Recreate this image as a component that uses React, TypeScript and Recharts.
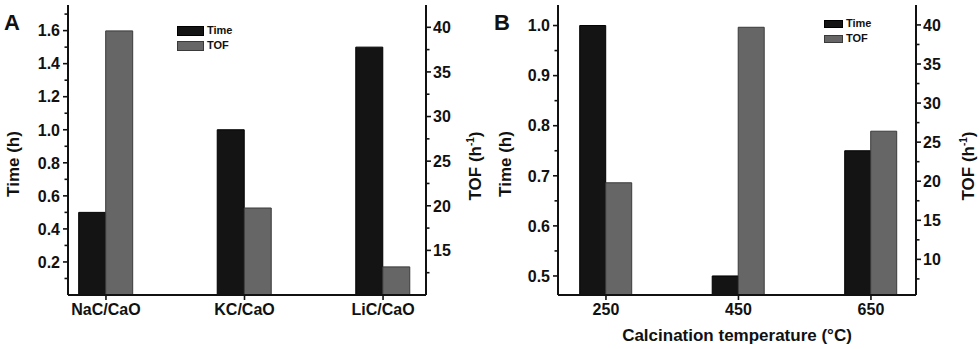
import React from 'react';
import { BarChart, Bar, XAxis, YAxis } from 'recharts';

const categoriesA = ['NaC/CaO', 'KC/CaO', 'LiC/CaO'];
const timeA = [0.5, 1.0, 1.5];
const tofA = [39.6, 19.75, 13.15];

const categoriesB = ['250', '450', '650'];
const timeB = [1.0, 0.5, 0.75];
const tofB = [19.8, 39.7, 26.4];

const timeTicksA = [0.1, 0.2, 0.3, 0.4, 0.5, 0.6, 0.7, 0.8, 0.9, 1.0, 1.1, 1.2, 1.3, 1.4, 1.5, 1.6, 1.7];
const tofTicksA = [12.5, 15, 17.5, 20, 22.5, 25, 27.5, 30, 32.5, 35, 37.5, 40];
const timeTicksB = [0.5, 0.55, 0.6, 0.65, 0.7, 0.75, 0.8, 0.85, 0.9, 0.95, 1.0];
const tofTicksB = [7.5, 10, 12.5, 15, 17.5, 20, 22.5, 25, 27.5, 30, 32.5, 35, 37.5, 40];

const seriesNames = ['Time', 'TOF'];
const TIME_FILL = '#141414';
const TOF_FILL = '#666666';
const FONT = '"Liberation Sans", Arial, Helvetica, sans-serif';
const INK = '#111';

const fmt1 = (v: number) => v.toFixed(1);
const fmt0 = (v: number) => String(Math.round(v));

function YTick(props: any) {
  const { x, y, payload, side, isMajor, format } = props;
  const v = payload.value as number;
  const major = isMajor(v);
  const len = major ? 4 : 2.5;
  const dir = side === 'left' ? -1 : 1;
  return (
    <g>
      <line x1={x} y1={y} x2={x + dir * (len + 1)} y2={y} stroke={INK} strokeWidth={1.6} />
      {major && (
        <text
          x={side === 'left' ? x - 8 : x + 7}
          y={y}
          dy="0.36em"
          textAnchor={side === 'left' ? 'end' : 'start'}
          fontFamily={FONT}
          fontWeight="bold"
          fontSize={16}
          fill={INK}
        >
          {format(v)}
        </text>
      )}
    </g>
  );
}

function XTick(props: any) {
  const { x, y, payload, cats } = props;
  const idx = Math.round(payload.value);
  return (
    <g>
      <line x1={x} y1={y} x2={x} y2={y + 5} stroke={INK} strokeWidth={1.6} />
      <text x={x} y={y + 9} dy="0.71em" textAnchor="middle" fontFamily={FONT} fontWeight="bold" fontSize={16} fill={INK}>
        {cats[idx]}
      </text>
    </g>
  );
}

type PanelProps = {
  letter: string;
  cats: string[];
  time: number[];
  tof: number[];
  xDomain: [number, number];
  timeDomain: [number, number];
  tofDomain: [number, number];
  timeTicks: number[];
  tofTicks: number[];
  timeMajor: (v: number) => boolean;
  tofMajor: (v: number) => boolean;
  barSize: number;
  legend: { left: number; top: number; boxW: number; boxH: number; pitch: number; font: number };
  xTitle?: string;
  leftTitleX: number;
  rightTitleX: number;
};

function Panel(p: PanelProps) {
  const data = p.cats.map((c, i) => ({ x: i, name: c, time: p.time[i], tof: p.tof[i] }));
  return (
    <div style={{ position: 'relative', width: 490, height: 349 }}>
      <BarChart width={490} height={349} data={data} margin={{ top: 5, right: 0, left: 8, bottom: 0 }} barGap={0} barCategoryGap={0}>
        <XAxis
          xAxisId="b"
          dataKey="x"
          type="number"
          domain={p.xDomain}
          allowDataOverflow
          ticks={[0, 1, 2]}
          interval={0}
          height={54}
          tickSize={0}
          tickMargin={0}
          axisLine={{ stroke: INK, strokeWidth: 2 }}
          tickLine={false}
          tick={(tp: any) => <XTick {...tp} cats={p.cats} />}
        />
        <XAxis
          xAxisId="t"
          orientation="top"
          type="number"
          domain={p.xDomain}
          allowDataOverflow
          height={0}
          tick={false}
          tickLine={false}
          axisLine={{ stroke: INK, strokeWidth: 2 }}
        />
        <YAxis
          yAxisId="left"
          orientation="left"
          width={60}
          domain={p.timeDomain}
          allowDataOverflow
          ticks={p.timeTicks}
          interval={0}
          tickSize={0}
          tickMargin={0}
          tickLine={false}
          axisLine={{ stroke: INK, strokeWidth: 2 }}
          tick={(tp: any) => <YTick {...tp} side="left" isMajor={p.timeMajor} format={fmt1} />}
        />
        <YAxis
          yAxisId="right"
          orientation="right"
          width={64}
          domain={p.tofDomain}
          allowDataOverflow
          ticks={p.tofTicks}
          interval={0}
          tickSize={0}
          tickMargin={0}
          tickLine={false}
          axisLine={{ stroke: INK, strokeWidth: 2 }}
          tick={(tp: any) => <YTick {...tp} side="right" isMajor={p.tofMajor} format={fmt0} />}
        />
        <Bar xAxisId="b" yAxisId="left" dataKey="time" name={seriesNames[0]} fill={TIME_FILL} stroke="#000" strokeWidth={1} barSize={p.barSize} isAnimationActive={false} />
        <Bar xAxisId="b" yAxisId="right" dataKey="tof" name={seriesNames[1]} fill={TOF_FILL} stroke="#3a3a3a" strokeWidth={1} barSize={p.barSize} isAnimationActive={false} />
      </BarChart>
      <svg width={490} height={349} style={{ position: 'absolute', left: 0, top: 0, pointerEvents: 'none' }}>
        <text x={4} y={30} fontFamily={FONT} fontWeight="bold" fontSize={22} fill={INK}>
          {p.letter}
        </text>
        <text
          x={p.leftTitleX}
          y={164}
          dy="0.35em"
          transform={`rotate(-90 ${p.leftTitleX} 164)`}
          textAnchor="middle"
          fontFamily={FONT}
          fontWeight="bold"
          fontSize={17}
          fill={INK}
        >
          Time (h)
        </text>
        <text
          x={p.rightTitleX}
          y={166}
          dy="0.35em"
          transform={`rotate(-90 ${p.rightTitleX} 166)`}
          textAnchor="middle"
          fontFamily={FONT}
          fontWeight="bold"
          fontSize={17}
          fill={INK}
        >
          TOF (h
          <tspan dy="-7" fontSize={10}>-1</tspan>
          <tspan dy="7">)</tspan>
        </text>
        {p.xTitle && (
          <text x={247} y={341} textAnchor="middle" fontFamily={FONT} fontWeight="bold" fontSize={17} fill={INK}>
            {p.xTitle}
          </text>
        )}
      </svg>
      <div style={{ position: 'absolute', left: p.legend.left, top: p.legend.top, fontFamily: FONT, fontWeight: 'bold', fontSize: p.legend.font, color: INK }}>
        {seriesNames.map((n, i) => (
          <div key={n} style={{ display: 'flex', alignItems: 'center', height: p.legend.pitch, lineHeight: `${p.legend.pitch}px` }}>
            <span
              style={{
                display: 'inline-block',
                width: p.legend.boxW,
                height: p.legend.boxH,
                boxSizing: 'border-box',
                background: i === 0 ? TIME_FILL : TOF_FILL,
                border: `1px solid ${i === 0 ? '#000' : '#3a3a3a'}`,
              }}
            />
            <span style={{ marginLeft: 3 }}>{n}</span>
          </div>
        ))}
      </div>
    </div>
  );
}

export default function App() {
  return (
    <div style={{ position: 'absolute', left: 0, top: 0, width: 980, height: 349, background: '#fff', overflow: 'hidden' }}>
      <div style={{ position: 'absolute', left: 0, top: 0 }}>
        <Panel
          letter="A"
          cats={categoriesA}
          time={timeA}
          tof={tofA}
          xDomain={[-0.274, 2.31]}
          timeDomain={[0, 1.755]}
          tofDomain={[10, 42.5]}
          timeTicks={timeTicksA}
          tofTicks={tofTicksA}
          timeMajor={(v) => Math.round(v * 10) % 2 === 0}
          tofMajor={(v) => Math.round(v * 2) % 10 === 0}
          barSize={27}
          legend={{ left: 177, top: 23, boxW: 27, boxH: 10, pitch: 15, font: 11 }}
          leftTitleX={13}
          rightTitleX={475}
        />
      </div>
      <div style={{ position: 'absolute', left: 490, top: 0 }}>
        <Panel
          letter="B"
          cats={categoriesB}
          time={timeB}
          tof={tofB}
          xDomain={[-0.362, 2.34]}
          timeDomain={[0.462, 1.041]}
          tofDomain={[5.44, 42.55]}
          timeTicks={timeTicksB}
          tofTicks={tofTicksB}
          timeMajor={(v) => Math.round(v * 100) % 10 === 0}
          tofMajor={(v) => Math.round(v * 2) % 10 === 0}
          barSize={26}
          legend={{ left: 334, top: 16, boxW: 19, boxH: 8, pitch: 15, font: 11 }}
          xTitle="Calcination temperature (°C)"
          leftTitleX={15}
          rightTitleX={478}
        />
      </div>
    </div>
  );
}
